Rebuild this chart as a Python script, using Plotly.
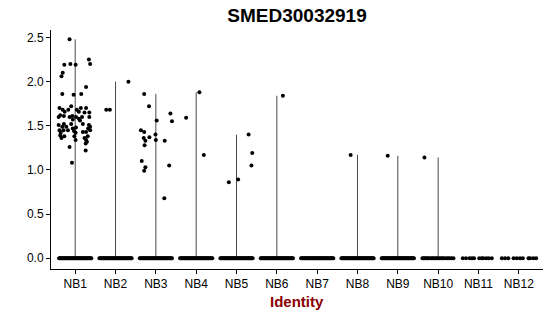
import plotly.graph_objects as go

CATEGORIES = ["NB1", "NB2", "NB3", "NB4", "NB5", "NB6", "NB7", "NB8", "NB9", "NB10", "NB11", "NB12"]

# Non-zero expression values per cluster, with the jitter offsets
NONZERO_VALUES = [
    [2.48, 2.25, 2.20, 2.19, 2.20, 2.19, 2.10, 2.06, 1.94, 1.86, 1.85, 1.86,
     1.70, 1.68, 1.66, 1.72, 1.68, 1.70, 1.66, 1.68, 1.70, 1.65, 1.65,
     1.62, 1.61, 1.60, 1.61, 1.60, 1.60, 1.58, 1.57, 1.60, 1.60, 1.56,
     1.51, 1.49, 1.52, 1.49, 1.52, 1.47, 1.48, 1.52, 1.51, 1.49, 1.47, 1.43,
     1.45, 1.42, 1.45, 1.45, 1.44, 1.42, 1.43, 1.45,
     1.39, 1.36, 1.38, 1.38, 1.34, 1.36, 1.38, 1.34, 1.32, 1.30,
     1.26, 1.22, 1.08],
    [2.00, 1.68, 1.68],
    [1.86, 1.72, 1.64, 1.55, 1.56, 1.45, 1.43, 1.40, 1.36, 1.37, 1.33, 1.28,
     1.34, 1.33, 1.10, 1.03, 0.99, 1.05, 0.68],
    [1.88, 1.59, 1.17],
    [1.40, 1.19, 1.05, 0.89, 0.86],
    [1.84],
    [],
    [1.17],
    [1.16],
    [1.14],
    [],
    [],
]
NONZERO_JITTER = [
    [-0.14, 0.34, 0.37, -0.27, -0.12, 0.01, -0.31, -0.34, 0.27, -0.32, -0.04, 0.15,
     -0.39, -0.31, -0.26, -0.10, -0.17, 0.14, 0.09, 0.04, 0.27, 0.23, 0.35,
     -0.37, -0.28, -0.41, -0.07, 0.02, 0.17, 0.09, -0.06, -0.14, 0.35, 0.12,
     -0.41, -0.32, -0.28, -0.22, -0.10, -0.06, 0.02, 0.19, 0.34, 0.37, 0.32, 0.27,
     -0.39, -0.36, -0.29, -0.18, -0.03, 0.01, 0.19, 0.37,
     -0.37, -0.34, -0.27, -0.02, 0.01, 0.23, 0.31, 0.27, 0.29, 0.26,
     -0.14, 0.26, -0.08],
    [0.32, -0.23, -0.14],
    [-0.29, -0.17, 0.36, 0.40, 0.02, -0.37, -0.29, -0.01, -0.30, -0.16, -0.26, -0.28,
     0.00, 0.22, -0.35, -0.26, -0.29, 0.33, 0.21],
    [0.08, -0.25, 0.19],
    [0.30, 0.39, 0.37, 0.04, -0.19],
    [0.15],
    [],
    [-0.17],
    [-0.25],
    [-0.34],
    [],
    [],
]

# Jitter offsets of the (many) zero-expression cells
ZERO_JITTER_DENSE = [-0.40, -0.38, -0.36, -0.34, -0.32, -0.30, -0.28, -0.26, -0.24, -0.22,
                     -0.20, -0.18, -0.16, -0.14, -0.12, -0.10, -0.08, -0.06, -0.04, -0.02,
                     0.00, 0.02, 0.04, 0.06, 0.08, 0.10, 0.12, 0.14, 0.16, 0.18,
                     0.20, 0.22, 0.24, 0.26, 0.28, 0.30, 0.32, 0.34, 0.36, 0.38, 0.40]
ZERO_JITTER_NB10 = [-0.39, -0.36, -0.33, -0.30, -0.27, -0.24, -0.20, -0.16, -0.13, -0.10,
                    -0.06, -0.03, 0.00, 0.04, 0.08, 0.11, 0.15, 0.20, 0.24, 0.28, 0.33, 0.38]
ZERO_JITTER_NB11 = [-0.39, -0.31, -0.22, -0.16, -0.11, 0.02, 0.08, 0.12, 0.19, 0.25, 0.33]
ZERO_JITTER_NB12 = [-0.42, -0.34, -0.26, -0.13, -0.05, 0.03, 0.10, 0.24, 0.28, 0.36, 0.43]
ZERO_JITTER = [ZERO_JITTER_DENSE] * 9 + [ZERO_JITTER_NB10, ZERO_JITTER_NB11, ZERO_JITTER_NB12]

FONT = "Liberation Sans, Arial, sans-serif"

fig = go.Figure()

# violins (collapsed to thin lines because most values are zero)
for i, vals in enumerate(NONZERO_VALUES):
    if not vals:
        continue
    pos = i + 1
    fig.add_trace(go.Scatter(x=[pos, pos], y=[0, max(vals)], mode="lines",
                             line=dict(color="#4a4a4a", width=1),
                             showlegend=False, hoverinfo="skip"))

# jittered points
px, py = [], []
for i in range(len(CATEGORIES)):
    pos = i + 1
    for off in ZERO_JITTER[i]:
        px.append(pos + off)
        py.append(0.0)
    for off, v in zip(NONZERO_JITTER[i], NONZERO_VALUES[i]):
        px.append(pos + off)
        py.append(v)

fig.add_trace(go.Scatter(x=px, y=py, mode="markers",
                         marker=dict(color="black", size=4, line=dict(width=0)),
                         showlegend=False))

fig.update_layout(
    width=550, height=316,
    margin=dict(l=51, r=7, t=30, b=47),
    paper_bgcolor="white", plot_bgcolor="white",
    font=dict(family=FONT, color="black", size=12),
    title=dict(text="<b>SMED30032919</b>", x=0.5, xref="paper", xanchor="center",
               y=1 - 15 / 316, yref="container", yanchor="middle",
               font=dict(size=19, color="black", family=FONT)),
    xaxis=dict(range=[0.4, 12.6], tickmode="array",
               tickvals=list(range(1, len(CATEGORIES) + 1)), ticktext=CATEGORIES,
               showline=True, linecolor="black", linewidth=1,
               ticks="outside", ticklen=4, tickcolor="black", tickwidth=1,
               showgrid=False, zeroline=False,
               tickfont=dict(size=12, color="black")),
    yaxis=dict(range=[-0.123, 2.585], tickvals=[0, 0.5, 1.0, 1.5, 2.0, 2.5],
               ticktext=["0.0", "0.5", "1.0", "1.5", "2.0", "2.5"],
               showline=True, linecolor="black", linewidth=1,
               ticks="outside", ticklen=4, tickcolor="black", tickwidth=1,
               showgrid=False, zeroline=False,
               tickfont=dict(size=12, color="black")),
    annotations=[dict(text="<b>Identity</b>", x=0.5, xref="paper", y=-0.137, yref="paper",
                      xanchor="center", yanchor="middle", showarrow=False,
                      font=dict(size=15, color="#8B0000", family=FONT))],
)

fig.write_html("out.html")
